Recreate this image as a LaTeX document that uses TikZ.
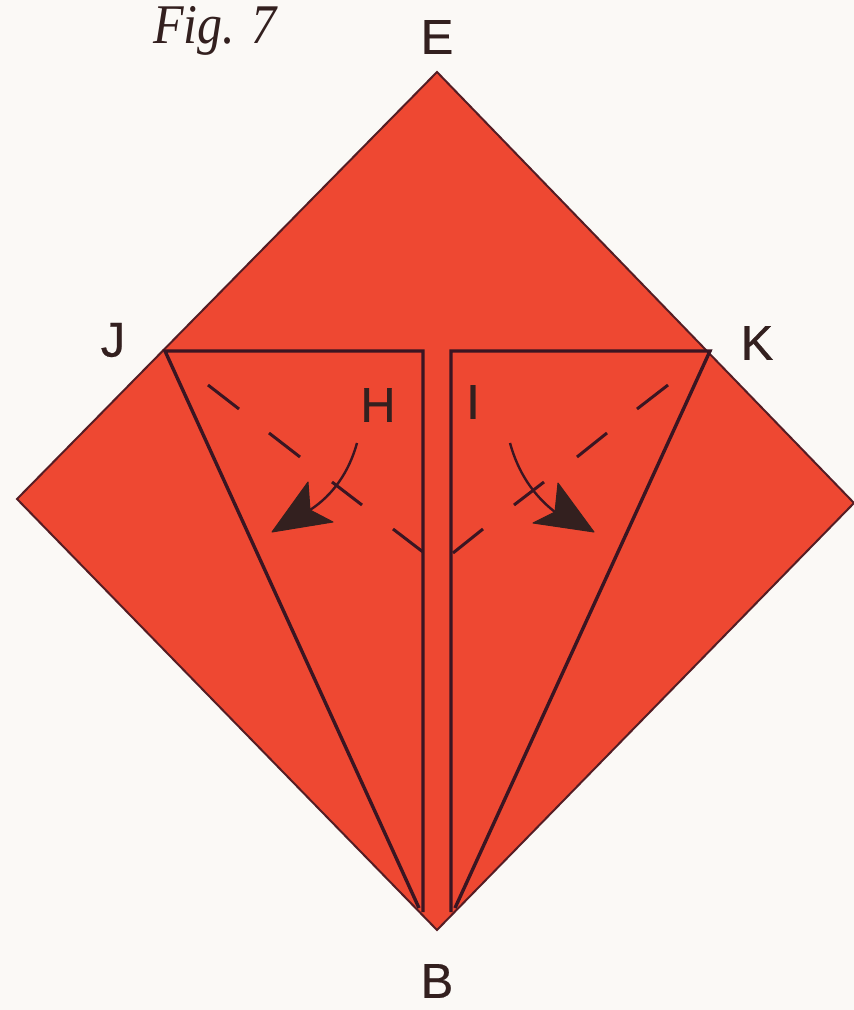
\documentclass[tikz,border=0pt]{standalone}
\usepackage{fontspec}
\setmainfont{Liberation Sans}
\newfontfamily\figfont{Liberation Serif}
\newfontfamily\letterfont[FakeBold=0.5]{Liberation Sans}
\definecolor{paper}{HTML}{FBF9F6}
\definecolor{paperred}{HTML}{EE4832}
\definecolor{ink}{HTML}{3A1522}
\definecolor{headink}{HTML}{33201F}
\tikzset{
  letter/.style={font=\letterfont\fontsize{49}{49}\selectfont, text=headink, inner sep=0pt},
  foldline/.style={draw=ink, line width=3.4pt, line join=miter},
  valley/.style={draw=ink, line width=3pt},
  edge/.style={draw=ink!85!paperred, line width=2pt},
  turn/.style={draw=ink, line width=2.4pt},
  head/.style={fill=headink, draw=headink, line width=1pt, line join=round}
}
\begin{document}
\begin{tikzpicture}[x=1pt,y=-1pt]
\useasboundingbox (0,0) rectangle (854,1010);
\fill[paper] (0,0) rectangle (854,1010);
% corners
\coordinate (cE) at (437,72);
\coordinate (cL) at (17,499);
\coordinate (cB) at (437,930);
\coordinate (cR) at (854,503);
\coordinate (cJ) at (165,351);
\coordinate (cK) at (710,351);
\coordinate (tl) at (423,351);
\coordinate (tr) at (451,351);
\coordinate (bl) at (423,912);
\coordinate (br) at (451,912);
\coordinate (bjl) at (419,908);
\coordinate (bkr) at (455,908);
% paper
\path[fill=paperred, edge] (cE) -- (cR) -- (cB) -- (cL) -- cycle;
% folded flaps
\draw[foldline] (bjl) -- (cJ) -- (tl) -- (bl);
\draw[foldline] (bkr) -- (cK) -- (tr) -- (br);
% dashed fold lines
\draw[valley] (208,385) -- (239,409);
\draw[valley] (269,433) -- (300,457);
\draw[valley] (332,482) -- (362,505);
\draw[valley] (393,529) -- (423,552);
\draw[valley] (668,385) -- (637,409);
\draw[valley] (607,433) -- (577,457);
\draw[valley] (544,482) -- (514,505);
\draw[valley] (483,529) -- (453,553);
% turn arrows
\draw[turn] (357,443) .. controls (349,472) and (333,495) .. (310,510);
\fill[head] (272,532) -- (308,482) -- (310,510) -- (333,522) -- cycle;
\draw[turn] (510,443) .. controls (518,472) and (533,495) .. (555,512);
\fill[head] (594,532) -- (558,483) -- (555,512) -- (533,523) -- cycle;
% labels
\node[letter] (E) at (437,37) {E};
\node[letter] (J) at (113,340) {J};
\node[letter] (K) at (757,343) {K};
\node[letter] (B) at (437,981) {B};
\node[letter] (H) at (378,405) {H};
\node[letter] (I) at (473,402) {I};
\node[font=\figfont\itshape\fontsize{50}{50}\selectfont, text=headink, inner sep=0pt, anchor=base west] (fig) at (153,43) {\scalebox{1}[1.12]{Fig. 7}};
\end{tikzpicture}
\end{document}
